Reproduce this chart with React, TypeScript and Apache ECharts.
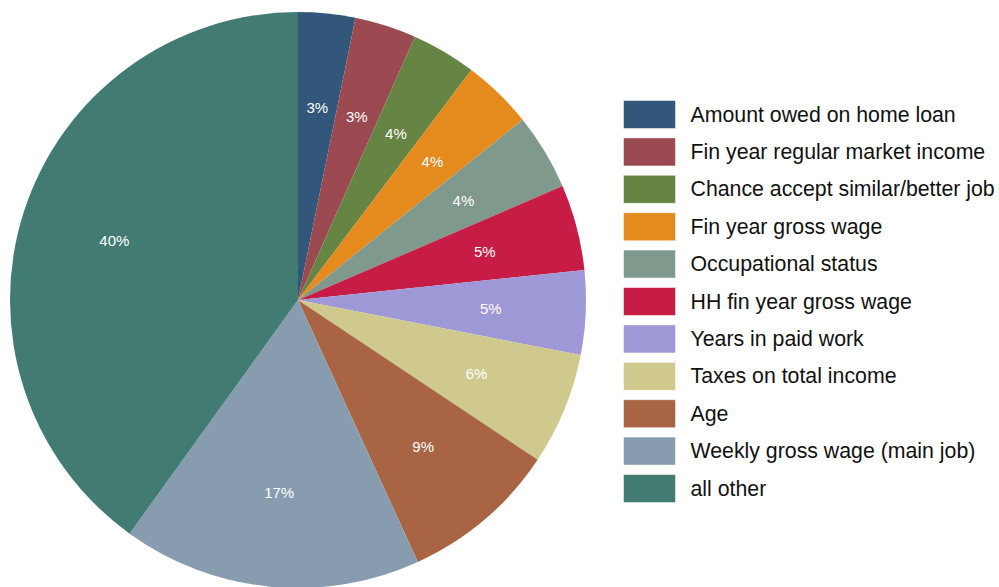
import React, { useEffect, useRef } from "react";
import * as echarts from "echarts";

const categories = [
  "Amount owed on home loan",
  "Fin year regular market income",
  "Chance accept similar/better job",
  "Fin year gross wage",
  "Occupational status",
  "HH fin year gross wage",
  "Years in paid work",
  "Taxes on total income",
  "Age",
  "Weekly gross wage (main job)",
  "all other",
];
const values = [3.2, 3.45, 3.63, 3.96, 4.29, 4.81, 4.72, 6.3, 8.81, 16.77, 40.06];
const colors = [
  "#32577a",
  "#9a4a50",
  "#668443",
  "#e58a1d",
  "#7f9a8d",
  "#c71c45",
  "#9f98d6",
  "#cfc98d",
  "#a86443",
  "#889cb0",
  "#427b72",
];

export default function App() {
  const ref = useRef<HTMLDivElement>(null);
  useEffect(() => {
    if (!ref.current) return;
    const chart = echarts.init(ref.current, null, { renderer: "svg" });
    const data = categories.map((name, i) => ({ name, value: values[i] }));
    chart.setOption({
      animation: false,
      color: colors,
      legend: {
        orient: "vertical",
        left: 623,
        top: 100,
        padding: 0,
        itemWidth: 52,
        itemHeight: 28,
        itemGap: 8.4,
        icon: "rect",
        selectedMode: false,
        data: categories,
        itemStyle: { borderColor: "rgba(255,255,255,0.5)", borderWidth: 1 },
        textStyle: {
          fontFamily: "Liberation Sans, Arial, sans-serif",
          fontSize: 21.3,
          color: "#111",
          lineHeight: 26,
          padding: [0, 0, 0, 10],
        },
      },
      series: [
        {
          type: "pie",
          center: [298, 300],
          radius: [0, 288],
          startAngle: 90,
          clockwise: true,
          data,
          label: { show: false },
          labelLine: { show: false },
          emphasis: { disabled: true },
        },
        {
          type: "pie",
          center: [298, 300],
          radius: [180, 200],
          startAngle: 90,
          clockwise: true,
          data,
          silent: true,
          itemStyle: { color: "rgba(0,0,0,0)" },
          label: {
            show: true,
            position: "inside",
            color: "#fff",
            fontSize: 15,
            fontFamily: "Liberation Sans, Arial, sans-serif",
            formatter: (p: any) => Math.round(p.percent) + "%",
          },
          labelLine: { show: false },
          emphasis: { disabled: true },
          legendHoverLink: false,
        },
      ],
    });
    return () => chart.dispose();
  }, []);
  return (
    <div
      ref={ref}
      style={{ position: "fixed", left: 0, top: 0, width: 999, height: 587, background: "#fff" }}
    />
  );
}
